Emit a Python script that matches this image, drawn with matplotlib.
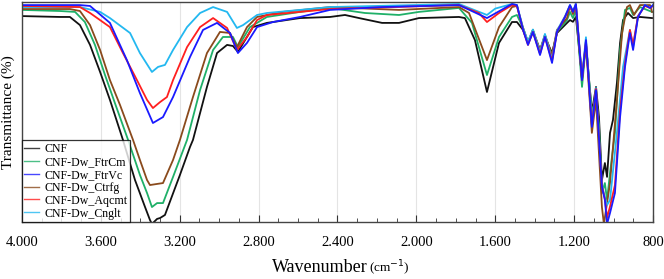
import matplotlib
matplotlib.use("Agg")
import matplotlib.pyplot as plt
from matplotlib.ticker import MultipleLocator, FuncFormatter
from matplotlib.lines import Line2D

plt.rcParams['font.family'] = ['Liberation Serif', 'DejaVu Serif']

# wavenumber (cm-1) / transmittance (%)
cnf_wn = [4000, 3807, 3757, 3706, 3655, 3604, 3554, 3488, 3427, 3376, 3351, 3341, 3315, 3300, 3275,
          3199, 3148, 3133, 3062, 3011, 2960, 2930, 2905, 2829, 2758, 2590, 2438, 2362, 2291, 2174,
          2088, 1987, 1784, 1754, 1703, 1642, 1581, 1515, 1490, 1459, 1434, 1409, 1373, 1348, 1312,
          1287, 1236, 1221, 1206, 1191, 1160, 1140, 1110, 1089, 1074, 1059, 1044, 1033, 1018, 1003,
          983, 967, 952, 927, 901, 866, 805]
cnf_t = [93.6, 93.2, 93.2, 89.5, 80.5, 68.2, 55.5, 37.3, 19.1, 6.8, 0.9, -0.9, 1.4, 1.8, 3.2,
         21.4, 34.1, 37.3, 61.4, 76.8, 80.5, 80.0, 77.3, 88.6, 90.5, 92.7, 93.2, 94.1, 92.7, 90.5,
         90.5, 92.7, 93.2, 92.7, 82.7, 59.1, 81.4, 90.9, 90.9, 87.3, 81.4, 86.4, 78.2, 84.1, 76.8,
         85.9, 90.5, 91.8, 91.0, 93.2, 65.9, 80.9, 50.0, 61.4, 47.7, 19.1, 26.8, 20.5, 40.5, 46.4,
         63.2, 81.4, 91.8, 95.0, 92.7, 93.2, 92.7]

ftrcm_wn = [4000, 3807, 3731, 3681, 3630, 3579, 3529, 3462, 3402, 3366, 3341, 3315, 3285, 3234,
            3163, 3097, 3031, 2981, 2930, 2905, 2844, 2758, 2590, 2438, 2261, 2088, 1987, 1784,
            1718, 1642, 1581, 1515, 1490, 1459, 1434, 1409, 1373, 1348, 1312, 1287, 1236, 1221,
            1206, 1191, 1160, 1140, 1110, 1089, 1074, 1059, 1044, 1033, 1018, 993, 967, 942, 917,
            901, 866, 805]
ftrcm_t = [96.4, 95.9, 95.5, 90.9, 80.5, 66.8, 54.1, 37.3, 21.4, 13.2, 6.8, 8.6, 8.6, 20.5,
           37.3, 60.0, 78.2, 84.1, 84.1, 79.5, 88.6, 93.2, 95.5, 97.3, 95.0, 94.1, 95.5, 97.3,
           90.5, 66.8, 84.1, 93.2, 94.1, 88.2, 81.4, 87.3, 77.3, 85.0, 74.5, 86.4, 91.8, 95.5,
           92.7, 96.4, 61.4, 81.0, 49.5, 56.8, 44.1, 13.2, 17.7, 10.0, 22.3, 40.5, 78.2, 96.4, 97.3,
           94.1, 97.7, 95.5]

ctrfg_wn = [4000, 3757, 3706, 3655, 3604, 3554, 3503, 3437, 3402, 3366, 3351, 3315, 3285, 3234,
            3199, 3133, 3062, 2996, 2945, 2910, 2859, 2808, 2676, 2438, 2088, 1784, 1733, 1642,
            1581, 1515, 1490, 1459, 1434, 1409, 1373, 1348, 1312, 1287, 1236, 1221, 1206, 1191,
            1160, 1140, 1110, 1089, 1059, 1049, 1018, 983, 957, 932, 917, 896, 866, 815, 805]
ctrfg_t = [96.8, 96.8, 95.9, 89.5, 78.2, 64.5, 53.2, 37.3, 28.2, 19.1, 16.8, 17.3, 17.7, 28.2,
           37.3, 56.8, 76.8, 86.4, 85.9, 79.5, 88.6, 93.2, 95.5, 97.7, 96.4, 97.7, 95.0, 73.6,
           88.6, 97.7, 98.2, 88.2, 81.8, 87.3, 78.2, 85.0, 75.9, 87.3, 92.7, 98.2, 94.5, 98.6,
           64.5, 81.0, 40.5, 55.5, 6.8, -0.9, 17.7, 55.5, 85.9, 97.7, 98.6, 94.1, 98.6, 98.6, 95.5]

aqcmt_wn = [4000, 3706, 3655, 3554, 3488, 3417, 3366, 3336, 3300, 3265, 3234, 3163, 3097, 3031,
            2960, 2910, 2859, 2808, 2758, 2590, 2438, 1784, 1683, 1642, 1581, 1515, 1490, 1459,
            1434, 1409, 1373, 1348, 1312, 1287, 1246, 1221, 1206, 1191, 1160, 1140, 1110, 1089,
            1059, 1044, 1033, 1018, 993, 967, 942, 917, 901, 876, 841, 815, 800]
aqcmt_t = [98.2, 97.7, 95.0, 88.6, 76.8, 64.5, 55.5, 51.8, 54.5, 56.8, 64.5, 79.5, 88.6, 92.7,
           88.2, 78.2, 84.1, 91.8, 94.1, 95.5, 96.8, 98.6, 95.0, 90.9, 95.0, 98.6, 98.2, 87.3,
           80.5, 86.4, 76.4, 84.1, 73.2, 86.4, 93.2, 98.2, 95.5, 98.6, 65.0, 82.3, 44.1, 60.5,
           16.4, 10.5, 2.0, 7.0, 16.8, 50.9, 72.0, 87.3, 80.5, 93.6, 98.2, 97.3, 98.2]

cnglt_wn = [4000, 3706, 3604, 3554, 3452, 3402, 3341, 3310, 3275, 3234, 3163, 3097, 3031, 2960,
            2910, 2879, 2808, 2758, 2590, 2438, 1784, 1642, 1600, 1515, 1490, 1459, 1434, 1409,
            1373, 1348, 1312, 1287, 1246, 1221, 1206, 1191, 1160, 1140, 1110, 1089, 1059, 1044,
            1033, 1018, 983, 952, 917, 901, 876, 841, 815, 800]
cnglt_t = [97.7, 97.7, 95.5, 92.7, 85.9, 76.8, 68.2, 70.5, 71.4, 78.2, 88.6, 95.0, 97.7, 95.5,
           88.2, 89.5, 94.1, 95.0, 96.4, 97.7, 99.1, 94.1, 97.0, 99.1, 98.6, 88.2, 82.0, 87.5,
           77.3, 85.5, 74.0, 87.0, 93.6, 98.6, 96.0, 99.1, 66.0, 84.0, 45.0, 61.0, 17.0, 11.0,
           7.7, 10.0, 40.5, 70.5, 87.3, 79.5, 93.6, 98.6, 97.3, 98.6]

ftrvc_wn = [4000, 3706, 3655, 3554, 3468, 3402, 3336, 3285, 3234, 3148, 3082, 3011, 2945, 2905,
            2859, 2808, 2727, 2590, 2438, 2174, 1784, 1642, 1515, 1490, 1459, 1434, 1409, 1373,
            1348, 1312, 1287, 1246, 1221, 1206, 1191, 1160, 1140, 1110, 1089, 1059, 1044, 1033,
            1018, 993, 967, 942, 917, 901, 876, 841, 815, 800]
ftrvc_t = [98.6, 98.6, 98.2, 90.5, 73.6, 58.6, 45.0, 47.7, 56.8, 75.0, 87.3, 90.5, 85.9, 76.8,
           81.4, 88.6, 90.9, 93.2, 96.4, 97.7, 98.6, 92.7, 99.1, 98.6, 87.3, 80.5, 86.4, 75.9,
           84.1, 72.3, 86.4, 93.2, 98.6, 95.5, 99.1, 64.5, 82.7, 43.2, 60.0, 15.9, 10.0, -0.9,
           4.1, 13.2, 47.7, 70.5, 85.9, 78.2, 93.2, 98.6, 97.3, 98.6]

labels = ['CNF', 'CNF-Dw_FtrCm', 'CNF-Dw_FtrVc', 'CNF-Dw_Ctrfg', 'CNF-Dw_Aqcmt', 'CNF-Dw_Cnglt']
colors = ['#111111', '#1fb068', '#1a1aff', '#8a4a1c', '#ff1f1f', '#23b8f0']

fig = plt.figure(figsize=(6.64, 2.79), dpi=100)
ax = fig.add_axes([22 / 664, 57 / 279, 631 / 664, 220 / 279])

# draw order: blue ends on top like in the original
ax.plot(cnf_wn, cnf_t, color=colors[0], lw=1.3)
ax.plot(ftrcm_wn, ftrcm_t, color=colors[1], lw=1.3)
ax.plot(ctrfg_wn, ctrfg_t, color=colors[3], lw=1.3)
ax.plot(cnglt_wn, cnglt_t, color=colors[5], lw=1.3)
ax.plot(aqcmt_wn, aqcmt_t, color=colors[4], lw=1.3)
ax.plot(ftrvc_wn, ftrvc_t, color=colors[2], lw=1.3)

ax.set_xlim(4000, 800)
ax.set_ylim(0, 100)
ax.xaxis.set_major_locator(MultipleLocator(400))
ax.xaxis.set_minor_locator(MultipleLocator(100))
ax.xaxis.set_major_formatter(FuncFormatter(lambda v, p: f"{int(round(v)):,}".replace(",", ".")))
ax.tick_params(axis='x', which='both', direction='in', labelsize=10.5, pad=10, color='#333333')
ax.tick_params(axis='x', which='major', length=5)
ax.tick_params(axis='x', which='minor', length=3)
ax.set_yticks([])
ax.grid(axis='x', which='major', color='#e4e4e4', lw=0.8)
ax.set_axisbelow(True)
for s in ax.spines.values():
    s.set_color('#444444')
    s.set_linewidth(1.0)

handles = [Line2D([], [], color=c, lw=1.0, alpha=0.8) for c in colors]
leg = ax.legend(handles, labels, loc='lower left', fontsize=8.6, frameon=True, fancybox=False,
                borderaxespad=0, handlelength=1.2, handletextpad=0.5, labelspacing=0.08,
                borderpad=0.2)
leg.get_frame().set_edgecolor('black')
leg.get_frame().set_linewidth(0.9)

fig.text(8 / 664, 1 - 112 / 279, 'Transmittance (%)', rotation=90, ha='center', va='center',
         fontsize=11)
fig.text(272 / 664, 1 - 268 / 279, 'Wavenumber', ha='left', va='center', fontsize=13)
fig.text(369 / 664, 1 - 268 / 279, '(cm$^{-1}$)', ha='left', va='center', fontsize=9.5)

fig.savefig('out.png', dpi=100)
